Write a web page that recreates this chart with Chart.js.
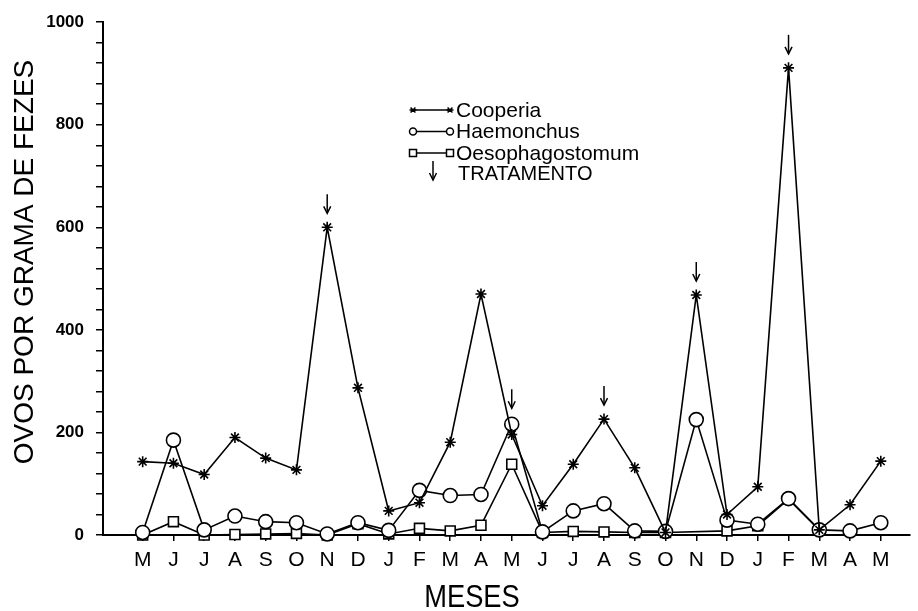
<!DOCTYPE html>
<html lang="pt">
<head>
<meta charset="UTF-8">
<title>Ovos por grama de fezes</title>
<script src="https://cdn.jsdelivr.net/npm/chart.js"></script>
<style>
  body { margin: 0; background: #fff; }
  canvas { display: block; }
</style>
</head>
<body>
<canvas id="chart" width="918" height="611"></canvas>
<script>
// meses (mai .. mai, dois anos)
const months = ['M','J','J','A','S','O','N','D','J','F','M','A','M','J','J','A','S','O','N','D','J','F','M','A','M'];
const cooperia = [143,140,118,190,150,127,600,287,47,63,181,470,196,57,138,226,131,5,468,40,94,911,10,59,144];
const haemonchus = [5,185,10,37,26,24,2,24,9,87,77,79,216,6,47,61,8,7,225,29,21,71,10,8,24];
const oesophagostomum = [0,26,0,1,2,3,0,22,2,13,8,19,138,5,7,6,5,5,null,8,18,70,10,null,null];
// indices dos meses com tratamento (setas)
const treatment = [6, 12, 15, 18, 21];
const yTicks = [0, 200, 400, 600, 800, 1000];

const FONT = "'Liberation Sans', Arial, sans-serif";

function toPoints(arr) {
    return arr.map((v, i) => ({ x: i, y: v }));
}

// small marker drawing for the legend
function marker(ctx, style, x, y) {
    ctx.beginPath();
    if (style === 'star') {
        const r = 3.5;
        ctx.moveTo(x - r, y); ctx.lineTo(x + r, y);
        ctx.moveTo(x - r * 0.7, y - r * 0.7); ctx.lineTo(x + r * 0.7, y + r * 0.7);
        ctx.moveTo(x - r * 0.7, y + r * 0.7); ctx.lineTo(x + r * 0.7, y - r * 0.7);
        ctx.stroke();
    } else if (style === 'circle') {
        ctx.arc(x, y, 3.5, 0, Math.PI * 2);
        ctx.fillStyle = '#fff'; ctx.fill(); ctx.stroke();
    } else {
        ctx.rect(x - 3.5, y - 3.5, 7, 7);
        ctx.fillStyle = '#fff'; ctx.fill(); ctx.stroke();
    }
}

function arrow(ctx, x, tipY) {
    ctx.beginPath();
    ctx.moveTo(x, tipY - 19);
    ctx.lineTo(x, tipY);
    ctx.stroke();
    ctx.beginPath();
    ctx.moveTo(x - 3.5, tipY - 7);
    ctx.lineTo(x, tipY);
    ctx.lineTo(x + 3.5, tipY - 7);
    ctx.stroke();
}

const extras = {
    id: 'extras',
    afterDraw(chart) {
        const ctx = chart.ctx;
        const xs = chart.scales.x, ys = chart.scales.y;
        ctx.save();
        ctx.fillStyle = '#000';
        ctx.strokeStyle = '#000';

        // axis titles
        ctx.textAlign = 'center';
        ctx.textBaseline = 'middle';
        ctx.font = '28px ' + FONT;
        ctx.save();
        ctx.translate(25, 262);
        ctx.rotate(-Math.PI / 2);
        ctx.fillText('OVOS POR GRAMA DE FEZES', 0, 0);
        ctx.restore();
        ctx.save();
        ctx.translate(472, 598);
        ctx.scale(0.88, 1);
        ctx.font = '31px ' + FONT;
        ctx.fillText('MESES', 0, 0);
        ctx.restore();

        // legend
        const items = [
            ['star', 'Cooperia'],
            ['circle', 'Haemonchus'],
            ['rect', 'Oesophagostomum']
        ];
        ctx.textAlign = 'left';
        ctx.font = '21px ' + FONT;
        ctx.lineWidth = 1.5;
        items.forEach((it, i) => {
            const y = 110 + i * 21.5;
            ctx.beginPath();
            ctx.moveTo(413, y); ctx.lineTo(450, y);
            ctx.stroke();
            marker(ctx, it[0], 413, y);
            marker(ctx, it[0], 450, y);
            ctx.fillStyle = '#000';
            ctx.fillText(it[1], 456, y + 1);
        });
        arrow(ctx, 433, 180);
        ctx.font = '20px ' + FONT;
        ctx.fillText('TRATAMENTO', 458, 174);

        // treatment arrows above the highest mark of each treated month
        treatment.forEach(i => {
            const top = Math.max(cooperia[i], haemonchus[i], oesophagostomum[i] || 0);
            const r = top === cooperia[i] ? 5 : 7;
            arrow(ctx, xs.getPixelForValue(i), ys.getPixelForValue(top) - r - 9);
        });
        ctx.restore();
    }
};

const common = {
    borderColor: '#000',
    pointBorderColor: '#000',
    pointBackgroundColor: '#fff',
    borderWidth: 1.6,
    pointBorderWidth: 1.6,
    tension: 0,
    clip: false,
    spanGaps: true
};

new Chart(document.getElementById('chart'), {
    type: 'line',
    data: {
        datasets: [
            Object.assign({ label: 'Cooperia', data: toPoints(cooperia), pointStyle: 'star', pointRadius: 5.5 }, common),
            Object.assign({ label: 'Haemonchus', data: toPoints(haemonchus), pointStyle: 'circle', pointRadius: 7 }, common),
            Object.assign({ label: 'Oesophagostomum', data: toPoints(oesophagostomum), pointStyle: 'rect', pointRadius: 7 }, common)
        ]
    },
    options: {
        responsive: false,
        animation: false,
        events: [],
        layout: { padding: { top: 19, right: 0, left: 0, bottom: 0 } },
        plugins: { legend: { display: false }, tooltip: { enabled: false } },
        scales: {
            x: {
                type: 'linear',
                min: -1.29,
                max: 24.93,
                afterFit: s => { s.height = 76; },
                border: { display: true, color: '#000', width: 2 },
                grid: {
                    drawOnChartArea: false,
                    tickLength: 6,
                    lineWidth: 1.5,
                    tickColor: c => (c.tick && c.tick.value >= 0) ? '#000' : 'rgba(0,0,0,0)'
                },
                ticks: {
                    stepSize: 1,
                    includeBounds: false,
                    autoSkip: false,
                    maxRotation: 0,
                    padding: 7,
                    color: '#000',
                    font: { family: FONT, size: 21 },
                    callback: v => (Number.isInteger(v) && v >= 0 && v < months.length) ? months[v] : ''
                }
            },
            y: {
                min: 0,
                max: 1000,
                afterFit: s => { s.width = 103; },
                border: { display: true, color: '#000', width: 2 },
                grid: {
                    drawOnChartArea: false,
                    tickLength: 7,
                    lineWidth: 1.5,
                    tickColor: '#000'
                },
                ticks: {
                    stepSize: 40,
                    autoSkip: false,
                    padding: 12,
                    color: '#000',
                    font: { family: FONT, size: 17, weight: 'bold' },
                    callback: v => yTicks.includes(v) ? String(v) : ''
                }
            }
        }
    },
    plugins: [extras]
});
</script>
</body>
</html>
